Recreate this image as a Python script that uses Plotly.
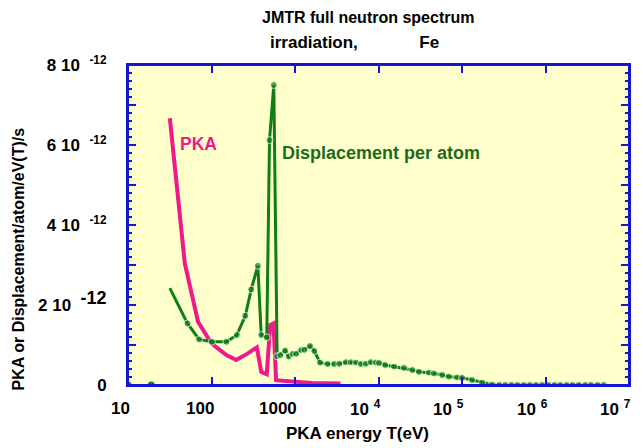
import numpy as np
import plotly.graph_objects as go

# ---------------- data (values in units of 1e-12) ----------------
pka_T = [31.7, 47.9, 69, 99.7, 151, 198, 273, 349, 394, 459, 505, 552, 594,
         783, 1000, 1200, 1600, 2500, 3500]
pka_val = [6.67, 3.04, 1.58, 1.04, 0.75, 0.625, 0.79, 0.94, 0.33, 0.27, 1.5, 1.54,
           0.12, 0.11, 0.10, 0.07, 0.05, 0.04, 0.04]

dpa_T = [31.7, 51.5, 71, 101, 151, 201, 254, 299, 359, 394, 459, 495, 557,
         611, 670, 762, 841, 939, 1031, 1183, 1295, 1514, 1705, 1995, 2455,
         2951, 3388, 4074, 4670, 5358, 6150, 7050, 8090, 9290, 10160, 12000,
         15350, 20200, 25400, 30500, 40200, 46000, 57900, 69500, 87500,
         100200, 132000, 174000, 229000, 2.8e5, 3.3e5, 3.9e5, 4.6e5, 5.5e5,
         6.5e5, 7.7e5, 9.1e5, 1.08e6, 1.28e6, 1.5e6, 1.8e6, 2.1e6, 2.5e6,
         3.0e6, 3.5e6, 4.2e6, 5.0e6]
dpa_val = [2.42, 1.54, 1.14, 1.08, 1.08, 1.25, 1.73, 2.39, 2.98, 1.25, 1.19, 6.12,
           7.5, 0.72, 0.75, 0.86, 0.71, 0.78, 0.78, 0.875, 0.88, 0.975, 0.85,
           0.56, 0.525, 0.525, 0.53, 0.57, 0.57, 0.56, 0.525, 0.53, 0.57, 0.56,
           0.55, 0.5, 0.46, 0.43, 0.375, 0.33, 0.31, 0.29, 0.25, 0.21, 0.19,
           0.18, 0.125, 0.06, 0.01, 0.0, 0.0, 0.0, 0.0, 0.0, 0.0, 0.0, 0.0, 0.0,
           0.0, 0.0, 0.0, 0.0, 0.0, 0.0, 0.0, 0.0, 0.0]

zero_T = [10, 19]
zero_val = [0.0, 0.0]

x_tick_vals = [10, 100, 1000, 1e4, 1e5, 1e6, 1e7]
x_tick_text = ["10", "100", "1000", "10\u00a0<sup>4</sup>", "10\u00a0<sup>5</sup>",
               "10\u00a0<sup>6</sup>", "10\u00a0<sup>7</sup>"]
y_tick_vals = [0, 1, 2, 3, 4, 5, 6, 7, 8]
y_tick_text = ["0", "",
               "2 10\u00a0\u00a0<sup><span style='font-size:18px'>-12</span></sup>", "",
               "4 10\u00a0\u00a0<sup>-12</sup>", "",
               "6 10\u00a0\u00a0<sup>-12</sup>", "",
               "8 10\u00a0\u00a0<sup>-12</sup>"]
y_minor_step = 0.2
SCALE = 1e-12

# ---------------- styling ----------------
BLUE = "#1414d2"
PINK = "#f0188a"
GREEN = "#0f7f14"
GREEN_TXT = "#1e6b1e"
FONT = "Liberation Sans, Arial, sans-serif"

W, H = 643, 448
L, R, T, B = 128, 12, 65, 63
pw, ph = W - L - R, H - T - B


def px(xp):
    return (xp - L) / pw


def py(yp):
    return (H - B - yp) / ph


fig = go.Figure()

fig.add_trace(go.Scatter(
    x=pka_T, y=[v * SCALE for v in pka_val], mode="lines",
    line=dict(color=PINK, width=4), showlegend=False))

sizes = [0] + [7] * (len(dpa_T) - 1)
fig.add_trace(go.Scatter(
    x=dpa_T, y=[v * SCALE for v in dpa_val], mode="lines+markers",
    line=dict(color=GREEN, width=3), marker=dict(color=GREEN, size=sizes),
    showlegend=False))

fig.add_trace(go.Scatter(
    x=zero_T, y=[v * SCALE for v in zero_val], mode="markers",
    marker=dict(color=GREEN, size=7), showlegend=False))

minor_x = [k * 10 ** d for d in range(1, 7) for k in range(2, 10)]
minor_y = [i * y_minor_step for i in range(1, 40) if i % 5]

fig.update_layout(
    xaxis=dict(
        type="log", range=[1, 7], showline=True, linecolor=BLUE, linewidth=2,
        mirror="ticks", ticks="inside", ticklen=8, tickwidth=2, tickcolor=BLUE,
        tickmode="array", tickvals=x_tick_vals, showticklabels=False,
        showgrid=False, zeroline=False),
    yaxis=dict(
        range=[0, 8 * SCALE], showline=True, linecolor=BLUE, linewidth=2,
        mirror="ticks", ticks="inside", ticklen=8, tickwidth=2, tickcolor=BLUE,
        tickmode="array", tickvals=[v * SCALE for v in y_tick_vals],
        ticktext=y_tick_text,
        tickfont=dict(family=FONT, size=17, color="black", weight="bold"),
        ticklabelstandoff=16, showgrid=False, zeroline=False),
)

# frame and tick marks drawn above the traces, positioned through the axes
line_style = dict(color=BLUE, width=2)
shapes = [dict(type="rect", xref="paper", yref="paper", x0=0, x1=1, y0=0, y1=1,
               line=line_style, layer="above")]
for vals, ln in ((x_tick_vals[1:-1], 8), (minor_x, 4)):
    for v in vals:
        for anchor, sgn in ((0, 1), (1, -1)):
            shapes.append(dict(type="line", xref="x", x0=np.log10(v), x1=np.log10(v),
                               yref="paper", ysizemode="pixel", yanchor=anchor,
                               y0=0, y1=sgn * ln, line=line_style, layer="above"))
for vals, ln in ((y_tick_vals[1:-1], 8), (minor_y, 4)):
    for v in vals:
        for anchor, sgn in ((0, 1), (1, -1)):
            shapes.append(dict(type="line", yref="y", y0=v * SCALE, y1=v * SCALE,
                               xref="paper", xsizemode="pixel", xanchor=anchor,
                               x0=0, x1=sgn * ln, line=line_style, layer="above"))

ann = []
for v, t in zip(x_tick_vals, x_tick_text):
    ann.append(dict(x=np.log10(v), xref="x", y=py(408), yref="paper",
                    text=t, showarrow=False, xanchor="right", yanchor="middle",
                    xshift=4, font=dict(family=FONT, size=17, color="black",
                                        weight="bold")))

bold = dict(family=FONT, color="black", weight="bold")
ann += [
    dict(x=px(369), y=py(17), xref="paper", yref="paper", showarrow=False,
         text="JMTR full neutron spectrum", font=dict(size=16, **bold),
         xanchor="center", yanchor="middle"),
    dict(x=px(355.5), y=py(43), xref="paper", yref="paper", showarrow=False,
         text="irradiation," + "\u00a0" * 13 + "Fe", font=dict(size=17, **bold),
         xanchor="center", yanchor="middle"),
    dict(x=px(358), y=py(433), xref="paper", yref="paper", showarrow=False,
         text="PKA energy T(eV)", font=dict(size=17, **bold),
         xanchor="center", yanchor="middle"),
    dict(x=px(18), y=py(259), xref="paper", yref="paper", showarrow=False,
         text="PKA or Displacement/atom/eV(T)/s", textangle=-90,
         font=dict(size=16, **bold), xanchor="center", yanchor="middle"),
    dict(x=px(198.5), y=py(143.5), xref="paper", yref="paper", showarrow=False,
         text="PKA", font=dict(family=FONT, size=17.5, color=PINK, weight="bold"),
         xanchor="center", yanchor="middle"),
    dict(x=px(382), y=py(153), xref="paper", yref="paper", showarrow=False,
         text="Displacement per atom",
         font=dict(family=FONT, size=18, color=GREEN_TXT, weight="bold"),
         xanchor="center", yanchor="middle"),
]

fig.update_layout(
    width=W, height=H, margin=dict(l=L, r=R, t=T, b=B),
    paper_bgcolor="white", plot_bgcolor="#ffffcc",
    annotations=ann, shapes=shapes, showlegend=False)

fig.write_html("out.html")
